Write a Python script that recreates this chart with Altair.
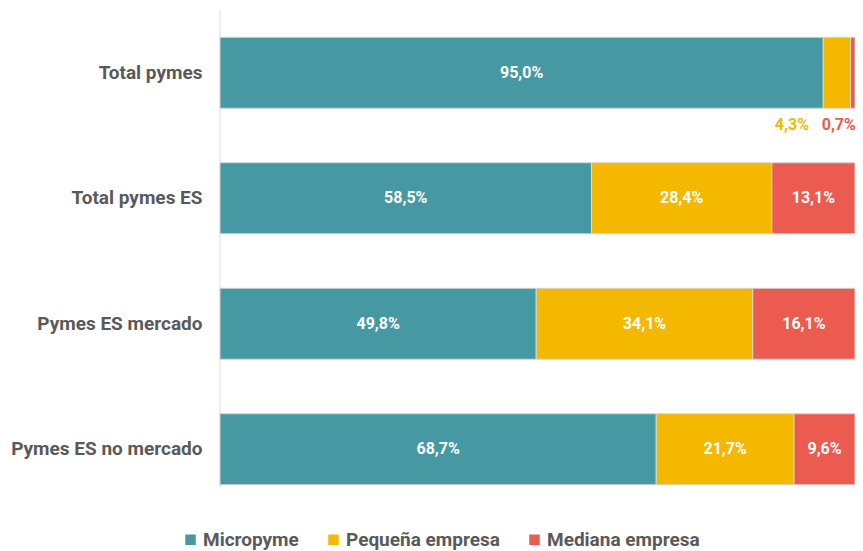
import altair as alt
import pandas as pd

categories = ["Total pymes", "Total pymes ES", "Pymes ES mercado", "Pymes ES no mercado"]
micropyme = [95.0, 58.5, 49.8, 68.7]
pequena = [4.3, 28.4, 34.1, 21.7]
mediana = [0.7, 13.1, 16.1, 9.6]
series = ["Micropyme", "Pequeña empresa", "Mediana empresa"]
colors = ["#4699A3", "#F4B800", "#EC5B4F"]

rows = []
for i, c in enumerate(categories):
    start = 0.0
    for k, (s, vals) in enumerate(zip(series, [micropyme, pequena, mediana])):
        v = vals[i]
        rows.append({
            "cat": c, "serie": s, "order": k, "value": v,
            "x0": start, "x1": start + v, "mid": start + v / 2,
            "label": f"{v:.1f}".replace(".", ",") + "%",
            "small": v < 5,
        })
        start += v
df = pd.DataFrame(rows)

yenc = alt.Y("cat:N", sort=categories,
             scale=alt.Scale(paddingInner=0.434, paddingOuter=0.217),
             axis=alt.Axis(title=None, domain=False, ticks=False, labelFont="Roboto",
                           labelFontWeight="bold", labelFontSize=19, labelColor="#595959",
                           labelPadding=18, labelLimit=400, grid=False))
xscale = alt.Scale(domain=[0, 100], nice=False, zero=True)

bars = alt.Chart(df).mark_bar(stroke="#d6d6d6", strokeWidth=1).encode(
    x=alt.X("x0:Q", scale=xscale, axis=None),
    x2="x1:Q",
    y=yenc,
    color=alt.Color("serie:N", sort=series,
                    scale=alt.Scale(domain=series, range=colors),
                    legend=alt.Legend(title=None, orient="none", direction="horizontal",
                                      legendX=-39, legendY=520, symbolType="square",
                                      symbolSize=110, symbolStrokeWidth=0,
                                      labelFont="Roboto", labelFontWeight="bold",
                                      labelFontSize=19, labelColor="#595959",
                                      labelLimit=400,
                                      columnPadding=25, labelOffset=3)),
)

inside = alt.Chart(df).transform_filter("!datum.small").mark_text(
    font="Roboto", fontWeight="bold", fontSize=16, color="white"
).encode(
    x=alt.X("mid:Q", scale=xscale),
    y=alt.Y("cat:N", sort=categories),
    text="label:N",
)

small_p = alt.Chart(df).transform_filter("datum.small && datum.serie == 'Pequeña empresa'").mark_text(
    font="Roboto", fontWeight="bold", fontSize=16, color="#F4B800", dx=-45, dy=52
).encode(
    x=alt.X("mid:Q", scale=xscale),
    y=alt.Y("cat:N", sort=categories),
    text="label:N",
)
small_m = alt.Chart(df).transform_filter("datum.small && datum.serie == 'Mediana empresa'").mark_text(
    font="Roboto", fontWeight="bold", fontSize=16, color="#EC5B4F", dx=-14, dy=52
).encode(
    x=alt.X("mid:Q", scale=xscale),
    y=alt.Y("cat:N", sort=categories),
    text="label:N",
)

axis_line = alt.Chart(pd.DataFrame({"a": [0]})).mark_rule(color="#dcdcdc", strokeWidth=1).encode(
    x=alt.value(0), y=alt.value(0), y2=alt.value(477)
)

chart = alt.layer(axis_line, bars, inside, small_p, small_m).properties(
    width=635, height=502,
    autosize=alt.AutoSizeParams(type="none"),
    padding={"left": 212, "top": 2, "right": 0, "bottom": 38},
).configure_view(stroke=None)

chart.save("out.html", embed_options={"renderer": "svg", "actions": False})
